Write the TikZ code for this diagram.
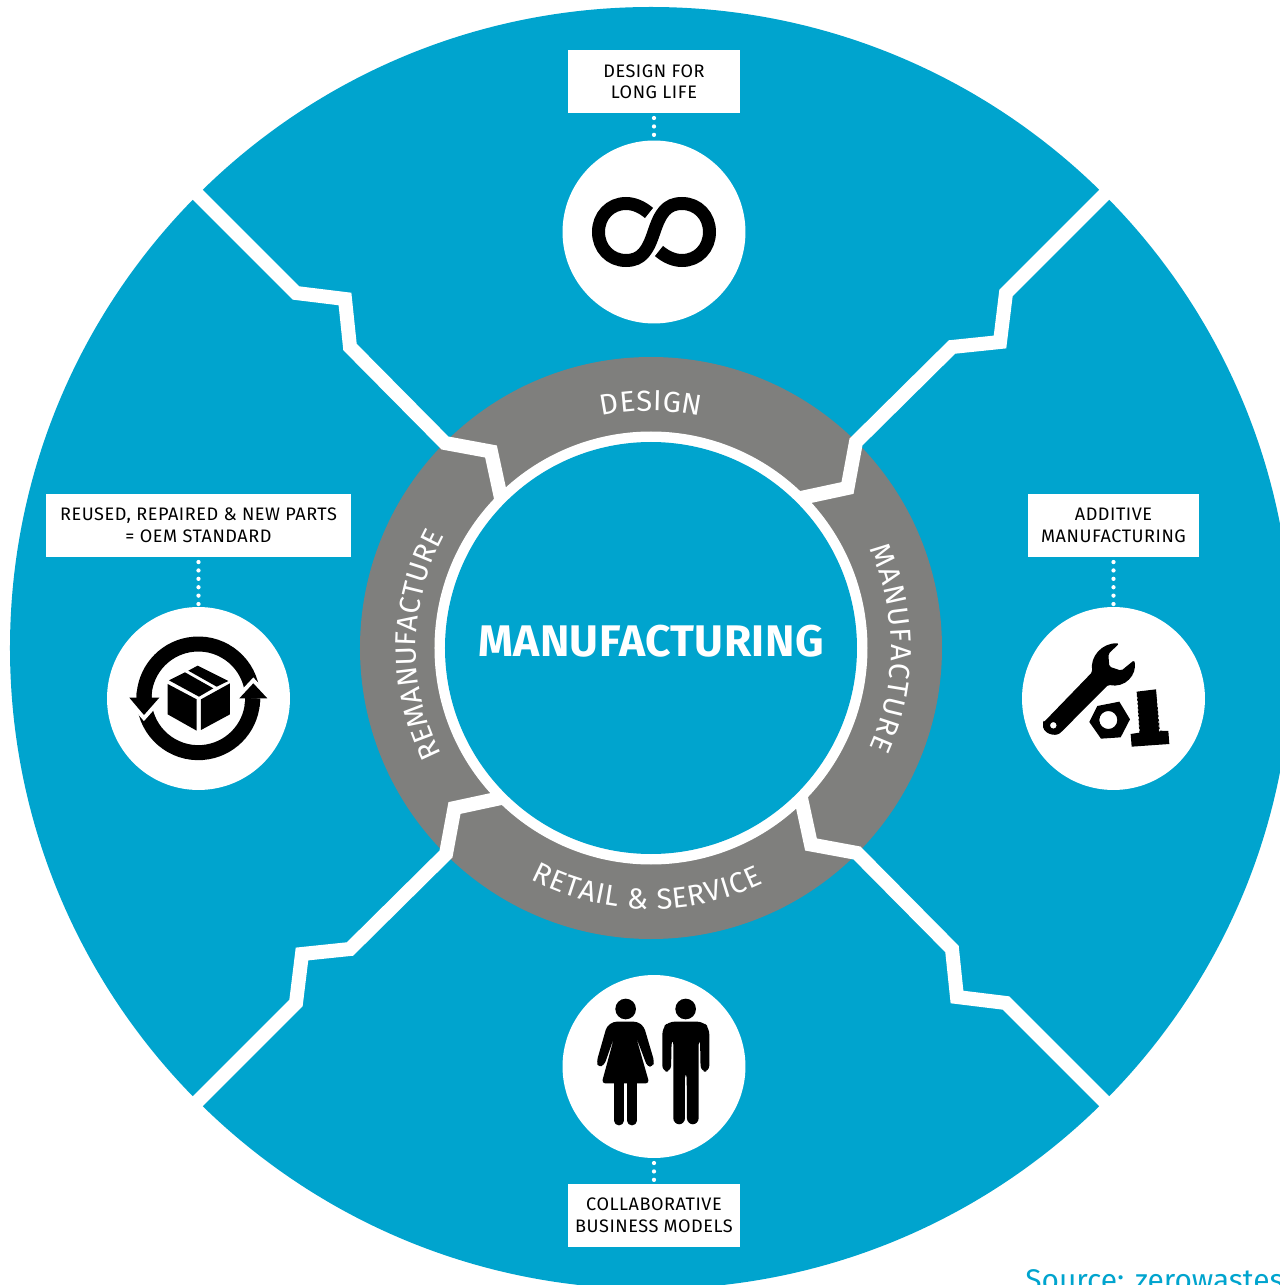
\documentclass[tikz,border=0pt]{standalone}
\usepackage{fontspec}
\setmainfont{Fira Sans}
\usetikzlibrary{decorations.text}
\definecolor{cblue}{HTML}{00A4CE}
\definecolor{cgrey}{HTML}{7F7F7D}
\newfontfamily\labelfam[LetterSpace=3]{Fira Sans}
\newfontfamily\mainfam[LetterSpace=1]{Fira Sans}
\newcommand{\arcfont}{\fontsize{16.5}{16.5}\selectfont\color{white}}
\tikzset{
  px/.style={shift={(-651,648)},yscale=-1},
  zoomscope/.style n args={2}{shift={(#1,#2)},scale=0.33333},
  labelbox/.style={fill=white,inner sep=0pt,align=center,text=black,font=\labelfam\fontsize{10.3}{12.3}\selectfont,minimum height=1.26cm},
  iconcircle/.style={circle,fill=white,inner sep=0pt,minimum size=3.66cm},
  dots/.style={white,line width=0.085cm,line cap=round,dash pattern=on 0pt off 0.168cm,dash phase=0.074cm},
  zig/.style={white,line width=0.28cm,miter limit=10},
  arctext/.style={postaction={decorate},decoration={text along path,text align={fit to path},text={#1}}},
  ink/.style={fill=black,draw=none},
  ringstroke/.style={black,line width=0.3cm}
}
\begin{document}
\begin{tikzpicture}[x=0.02cm,y=0.02cm]
\useasboundingbox (-651,648) rectangle (629,-637);
\clip (-651,648) rectangle (629,-637);
\fill[white] (-651,648) rectangle (629,-637);
% main discs
\fill[cblue] (0,0) circle[radius=641];
\fill[cgrey] (0,0) circle[radius=291];
\fill[white] (0,0) circle[radius=216.5];
\fill[cblue] (0,0) circle[radius=206];
% zigzag separators
\foreach \k in {0,90,180,270}{
  \begin{scope}[rotate=\k]
    \draw[zig] (480,480) -- (355,355) -- (349,306) -- (301,301) -- (205,206) -- (196.5,160) -- (150,150);
  \end{scope}
}
% curved labels
\path[arctext={|\arcfont|DESIGN}] (102:237) arc[start angle=102,end angle=78,radius=237];
\path[arctext={|\arcfont|MANUFACTURE}] (24.5:240) arc[start angle=24.5,end angle=-24.5,radius=240];
\path[arctext={|\arcfont|REMANUFACTURE}] (207:235) arc[start angle=207,end angle=151.5,radius=235];
\path[arctext={|\arcfont|RETAIL {\&} SERVICE}] (242.5:261) arc[start angle=242.5,end angle=295.5,radius=261];
\begin{scope}[px]
  \node[text=white,font=\mainfam\fontsize{25.2}{25.2}\selectfont\bfseries] (centre) at (651,641) {MANUFACTURING};
  \node[labelbox,minimum width=3.44cm] (boxTop) at (654,81.5) {DESIGN FOR\\[-0.5pt]LONG LIFE};
  \node[labelbox,minimum width=6.1cm] (boxLeft) at (198.5,525.5) {REUSED, REPAIRED \& NEW PARTS\\= OEM STANDARD};
  \node[labelbox,minimum width=3.44cm] (boxRight) at (1113.5,525.5) {ADDITIVE\\MANUFACTURING};
  \node[labelbox,minimum width=3.44cm] (boxBottom) at (654,1215.5) {COLLABORATIVE\\BUSINESS MODELS};
  \node[iconcircle] (circTop) at (654,232) {};
  \node[iconcircle] (circLeft) at (198.5,698.5) {};
  \node[iconcircle] (circRight) at (1113.5,698.5) {};
  \node[iconcircle] (circBottom) at (654,1066.5) {};
  \draw[dots] (boxTop) -- (circTop);
  \draw[dots] (boxLeft) -- (circLeft);
  \draw[dots] (boxRight) -- (circRight);
  \draw[dots] (circBottom) -- (boxBottom);
  \node[text=cblue,anchor=base west,inner sep=0pt,font=\fontsize{17}{17}\selectfont] (source) at (1025,1290) {Source: zerowastes};
  % infinity
  \draw[black,line width=0.26cm,line cap=butt]
    (649,213) .. controls (642,207) and (634,203.5) .. (626,203.5)
    .. controls (610,203.5) and (598.5,216) .. (598.5,232)
    .. controls (598.5,248) and (610,260.5) .. (626,260.5)
    .. controls (642,260.5) and (648,250) .. (654,232)
    .. controls (660,214) and (666,203.5) .. (682,203.5)
    .. controls (698,203.5) and (709.5,216) .. (709.5,232)
    .. controls (709.5,248) and (698,260.5) .. (682,260.5)
    .. controls (674,260.5) and (666,257) .. (659,251);
  % tools
  \begin{scope}[zoomscope={1000}{600}]
    \fill[ink,even odd rule,rounded corners=1pt]
      (130,368) -- (277,216)
      .. controls (270,170) and (305,128) .. (358,130)
      -- (325,162) -- (328,200) -- (364,212) -- (403,180)
      .. controls (412,225) and (375,265) .. (325,254)
      -- (184,396) .. controls (165,412) and (125,400) .. (130,368) -- cycle
      (160,376) circle[radius=10];
    \fill[ink,even odd rule]
      (268,366) -- (292,318) -- (358,305) -- (390,358) -- (362,412) -- (303,416) -- cycle
      (325,360) circle[radius=27];
    \fill[ink] (410,275) -- (468,268) -- (480,392) -- (505,393) -- (508,432) -- (395,440) -- (392,402) -- (418,398) -- cycle;
    \foreach \t in {0,1,...,8}{
      \fill[white] ({410+\t*0.8},{289+\t*12}) -- ++(3,5) -- ++(-3,5) -- cycle;
      \fill[white] ({473+\t*0.8},{289+\t*12}) -- ++(-3,5) -- ++(3,5) -- cycle;
    }
  \end{scope}
  % recycled box
  \begin{scope}[zoomscope={100}{600}]
    \draw[ringstroke] (295,295)+(-10:163) arc[start angle=-10,end angle=-180,radius=163];
    \draw[ringstroke] (295,295)+(-190:163) arc[start angle=-190,end angle=-360,radius=163];
    \draw[white,line width=0.16cm,line join=miter] (88,293) -- (132,345) -- (178,293);
    \fill[ink] (88,293) -- (178,293) -- (132,345) -- cycle;
    \draw[white,line width=0.16cm,line join=miter] (418,295) -- (460,250) -- (502,295);
    \fill[ink] (418,295) -- (502,295) -- (460,250) -- cycle;
    \draw[ringstroke] (295,295)+(-172:163) arc[start angle=-172,end angle=-180,radius=163];
    \draw[ringstroke] (295,295)+(-352:163) arc[start angle=-352,end angle=-360,radius=163];
    \fill[ink] (203,252) -- (290,298) -- (290,392) -- (203,343) -- cycle;
    \fill[ink] (303,298) -- (390,250) -- (390,343) -- (303,390) -- cycle;
    \fill[ink] (207,241) -- (255,217) -- (340,265) -- (297,290) -- cycle;
    \fill[ink] (265,212) -- (293,197) -- (385,243) -- (350,260) -- cycle;
  \end{scope}
  % people
  \begin{scope}[zoomscope={560}{970}]
    \fill[ink] (197,117) circle[radius=31];
    \fill[ink] (377,117) circle[radius=31];
    \fill[ink,rounded corners=2pt]
      (160,155) -- (232,155) -- (252,170) -- (283,275) -- (278,290) -- (262,290) -- (228,200)
      -- (268,340) -- (125,340) -- (163,200) -- (133,285) -- (115,292) -- (110,275) -- (140,170) -- cycle;
    \draw[black,line width=0.19cm,line cap=round] (177,335) -- (177,452);
    \draw[black,line width=0.19cm,line cap=round] (216,335) -- (216,452);
    \fill[ink,rounded corners=3.5pt]
      (325,155) -- (430,155) -- (448,175) -- (448,305) -- (422,305) -- (420,205) -- (416,205)
      -- (416,463) -- (381,463) -- (380,305) -- (375,305) -- (375,463) -- (340,463) -- (340,205)
      -- (335,205) -- (333,305) -- (307,305) -- (307,175) -- cycle;
  \end{scope}
\end{scope}
\end{tikzpicture}
\end{document}
